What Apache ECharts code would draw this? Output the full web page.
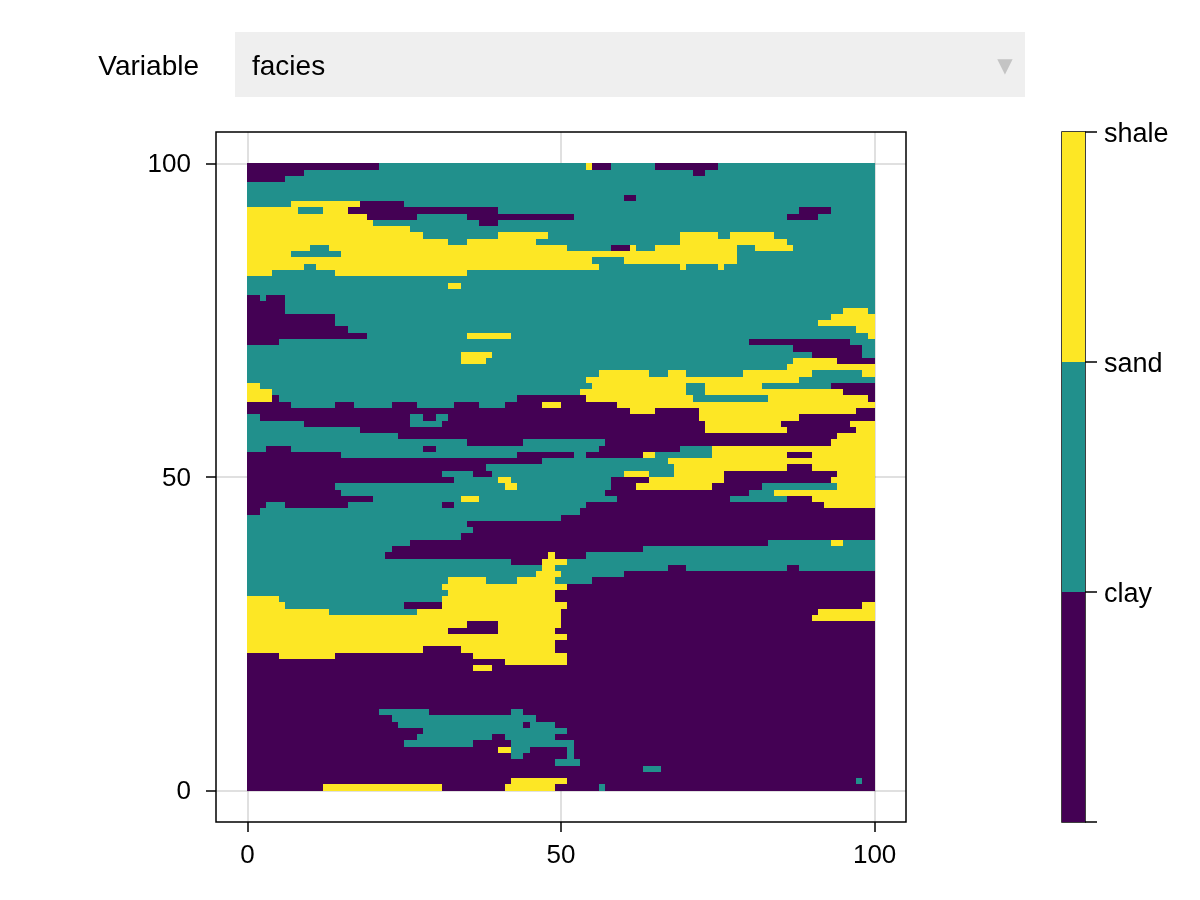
<!DOCTYPE html>
<html>
<head>
<meta charset="utf-8">
<title>facies</title>
<script src="https://cdn.jsdelivr.net/npm/echarts@6/dist/echarts.min.js"></script>
<style>
    html, body { margin: 0; padding: 0; background: #fff; }
    #chart { width: 1200px; height: 900px; }
</style>
</head>
<body>
<div id="chart"></div>
<script>
const variableLabel = 'Variable'
const variableValue = 'facies'
const faciesNames = ['clay', 'sand', 'shale']
const faciesColors = ['#440154', '#21908c', '#fde725']
const axisTicks = [0, 50, 100]

// top row first. each run is a letter for the facies and the column where it ends
const faciesRows = [
    'c21 s54 h55 c58 s65 c75 s100',
    'c9 s71 c73 s100',
    'c6 s100',
    's100',
    's100',
    's60 c62 s100',
    's7 h18 c25 s100',
    'h8 s12 h16 c40 s88 c93 s100',
    'h19 c27 s35 c52 s86 c91 s100',
    'h20 s37 c40 s100',
    'h26 s100',
    'h28 s40 h48 s69 h75 s77 h84 s100',
    'h32 s35 h46 s69 h86 s100',
    'h10 s13 h51 s58 c61 h62 s65 h78 s81 h87 s100',
    'h7 s15 h78 s100',
    'h55 s60 h78 s100',
    'h9 s11 h56 s69 h70 s75 h76 s100',
    'h4 s14 h35 s100',
    's100',
    's32 h34 s100',
    's100',
    'c2 s3 c6 s100',
    'c6 s100',
    'c6 s95 h99 s100',
    'c14 s93 h100',
    'c14 s91 h100',
    'c16 s97 h100',
    'c19 s35 h42 s99 h100',
    'c5 s80 c96 s100',
    's87 c98 s100',
    's34 h39 s90 c98 s100',
    's34 h38 s87 h94 c100',
    's86 h100',
    's56 h64 s67 h70 s79 h90 s98 h100',
    's54 h88 s100',
    'h2 s55 h70 s73 h82 s93 c100',
    'h4 s53 h70 s73 h95 c100',
    'h4 c5 s43 c54 h71 s83 h99 c100',
    'c7 s14 c17 s23 c27 s33 c37 s41 c47 h50 c59 h100',
    'c61 h65 c72 h97 c100',
    's2 c26 s28 c30 s32 c72 h88 c100',
    's9 c26 s31 c73 h85 c96 h100',
    's18 c73 h86 c97 h100',
    's24 c94 h100',
    's35 c44 s57 c93 h100',
    's3 c7 s28 c30 s56 c69 s74 h100',
    'c15 s43 c52 s54 c63 h65 s74 h86 c90 h100',
    'c47 s67 h100',
    'c38 s68 h86 c90 h100',
    'c31 s36 c39 s60 h64 s68 h76 c94 h100',
    'c33 s40 h42 s58 c64 h76 c93 h100',
    'c14 s41 h43 s58 c62 h74 c82 s94 h100',
    'c15 s57 c80 s84 h100',
    'c20 s34 h37 s59 c77 s86 c90 h100',
    'c3 s6 c16 s31 c33 s54 c92 h100',
    'c2 s53 c100',
    's50 c100',
    's35 c100',
    's36 c100',
    's34 c100',
    's26 c83 s93 h95 s100',
    's23 c63 s100',
    's22 c48 h49 c54 s100',
    's42 c47 h51 s100',
    's47 h49 s67 c70 s86 c88 s100',
    's46 h50 s60 c100',
    's32 h38 s43 h49 s55 c100',
    's31 h51 c100',
    's32 h49 c100',
    'h5 s31 h49 c100',
    'h6 s25 c31 h51 c98 h100',
    'h13 s27 h50 c91 h100',
    'h50 c90 h100',
    'h35 c40 h50 c100',
    'h32 c40 h49 c100',
    'h51 c100',
    'h49 c100',
    'h28 c34 h49 c100',
    'c5 h14 c36 h51 c100',
    'c41 h51 c100',
    'c36 h39 c100',
    'c100',
    'c100',
    'c100',
    'c100',
    'c100',
    'c100',
    'c21 s29 c42 s44 c100',
    'c23 s46 c100',
    'c24 s44 c45 s49 c100',
    'c28 s51 c100',
    'c27 s39 c41 s49 c100',
    'c25 s36 c42 s52 c100',
    'c40 h42 s45 c51 s52 c100',
    'c42 s44 c51 s52 c100',
    'c49 s53 c100',
    'c63 s66 c100',
    'c100',
    'c42 h51 c97 s98 c100',
    'c12 h31 c41 h49 c56 s57 c100'
]

const faciesLetters = { c: 0, s: 1, h: 2 }
const fontFamily = '"Liberation Sans", Arial, sans-serif'
const fontSize = 27
const digitSize = 26

// [column from, column to, row bottom, row top, facies]
const cells = []
faciesRows.forEach((row, i) => {
    let from = 0
    row.split(' ').forEach(run => {
        const to = Number(run.slice(1))
        cells.push([from, to, 99 - i, 100 - i, faciesLetters[run[0]]])
        from = to
    })
})

const barCells = faciesNames.map((name, i) => [0, 1, i, i + 1, i])

function renderCell(params, api) {
    const a = api.coord([api.value(0), api.value(2)])
    const b = api.coord([api.value(1), api.value(3)])
    const x = Math.round(a[0])
    const y = Math.round(b[1])
    return {
        type: 'rect',
        shape: { x: x, y: y, width: Math.round(b[0]) - x, height: Math.round(a[1]) - y },
        style: { fill: faciesColors[api.value(4)] }
    }
}

const chart = echarts.init(document.getElementById('chart'), null, { renderer: 'canvas' })

const option = {
    animation: false,
    backgroundColor: '#fff',
    textStyle: { fontFamily: fontFamily },
    grid: [
        { left: 216, top: 132, width: 690, height: 690, show: true, borderColor: '#000', borderWidth: 1.5, backgroundColor: '#fff' },
        { left: 1062, top: 132, width: 23, height: 690, show: true, borderColor: '#000', borderWidth: 1.5, backgroundColor: '#fff' }
    ],
    xAxis: [
        {
            type: 'value',
            gridIndex: 0,
            min: -5,
            max: 105,
            axisLine: { show: false, onZero: false },
            axisTick: { length: 10, customValues: axisTicks, lineStyle: { color: '#000', width: 1.5 } },
            axisLabel: { customValues: axisTicks, fontSize: digitSize, color: '#000', margin: 21, fontFamily: fontFamily },
            splitLine: { show: true, lineStyle: { color: 'rgba(0,0,0,0.12)', width: 2 } }
        },
        { type: 'value', gridIndex: 1, min: 0, max: 1, show: false }
    ],
    yAxis: [
        {
            type: 'value',
            gridIndex: 0,
            min: -5,
            max: 105,
            axisLine: { show: false, onZero: false },
            axisTick: { length: 10, customValues: axisTicks, lineStyle: { color: '#000', width: 1.5 } },
            axisLabel: {
                customValues: axisTicks,
                color: '#000',
                margin: 25,
                formatter: '{a|{value}}',
                rich: { a: { fontSize: digitSize, fontFamily: fontFamily, color: '#000', padding: [3, 0, 0, 0] } }
            },
            splitLine: { show: true, lineStyle: { color: 'rgba(0,0,0,0.12)', width: 2 } }
        },
        {
            type: 'value',
            gridIndex: 1,
            position: 'right',
            min: 0,
            max: 3,
            interval: 1,
            axisLine: { show: false, onZero: false },
            axisTick: { show: true, length: 12, lineStyle: { color: '#000', width: 1.5 } },
            axisLabel: {
                color: '#000',
                margin: 19,
                showMinLabel: true,
                showMaxLabel: true,
                formatter: function (v) {
                    return v > 0 ? '{a|' + faciesNames[v - 1] + '}' : ''
                },
                rich: { a: { fontSize: fontSize, fontFamily: fontFamily, color: '#000', padding: [6, 0, 0, 0] } }
            },
            splitLine: { show: false }
        }
    ],
    graphic: [
        { type: 'rect', left: 235, top: 32, shape: { width: 790, height: 65 }, style: { fill: '#efefef' } },
        { type: 'text', x: 199, y: 67, style: { text: variableLabel, font: '28px ' + fontFamily, fill: '#000', textAlign: 'right', textVerticalAlign: 'middle' } },
        { type: 'text', x: 252, y: 67, style: { text: variableValue, font: '28px ' + fontFamily, fill: '#000', textAlign: 'left', textVerticalAlign: 'middle' } },
        { type: 'text', x: 1005, y: 67, style: { text: '▼', font: '20px "DejaVu Sans"', fill: '#c4c4c4', textAlign: 'center', textVerticalAlign: 'middle' } }
    ],
    series: [
        {
            type: 'custom',
            xAxisIndex: 0,
            yAxisIndex: 0,
            coordinateSystem: 'cartesian2d',
            renderItem: renderCell,
            encode: { x: [0, 1], y: [2, 3] },
            data: cells,
            silent: true
        },
        {
            type: 'custom',
            xAxisIndex: 1,
            yAxisIndex: 1,
            coordinateSystem: 'cartesian2d',
            renderItem: renderCell,
            encode: { x: [0, 1], y: [2, 3] },
            data: barCells,
            silent: true
        }
    ]
}

chart.setOption(option)
</script>
</body>
</html>
